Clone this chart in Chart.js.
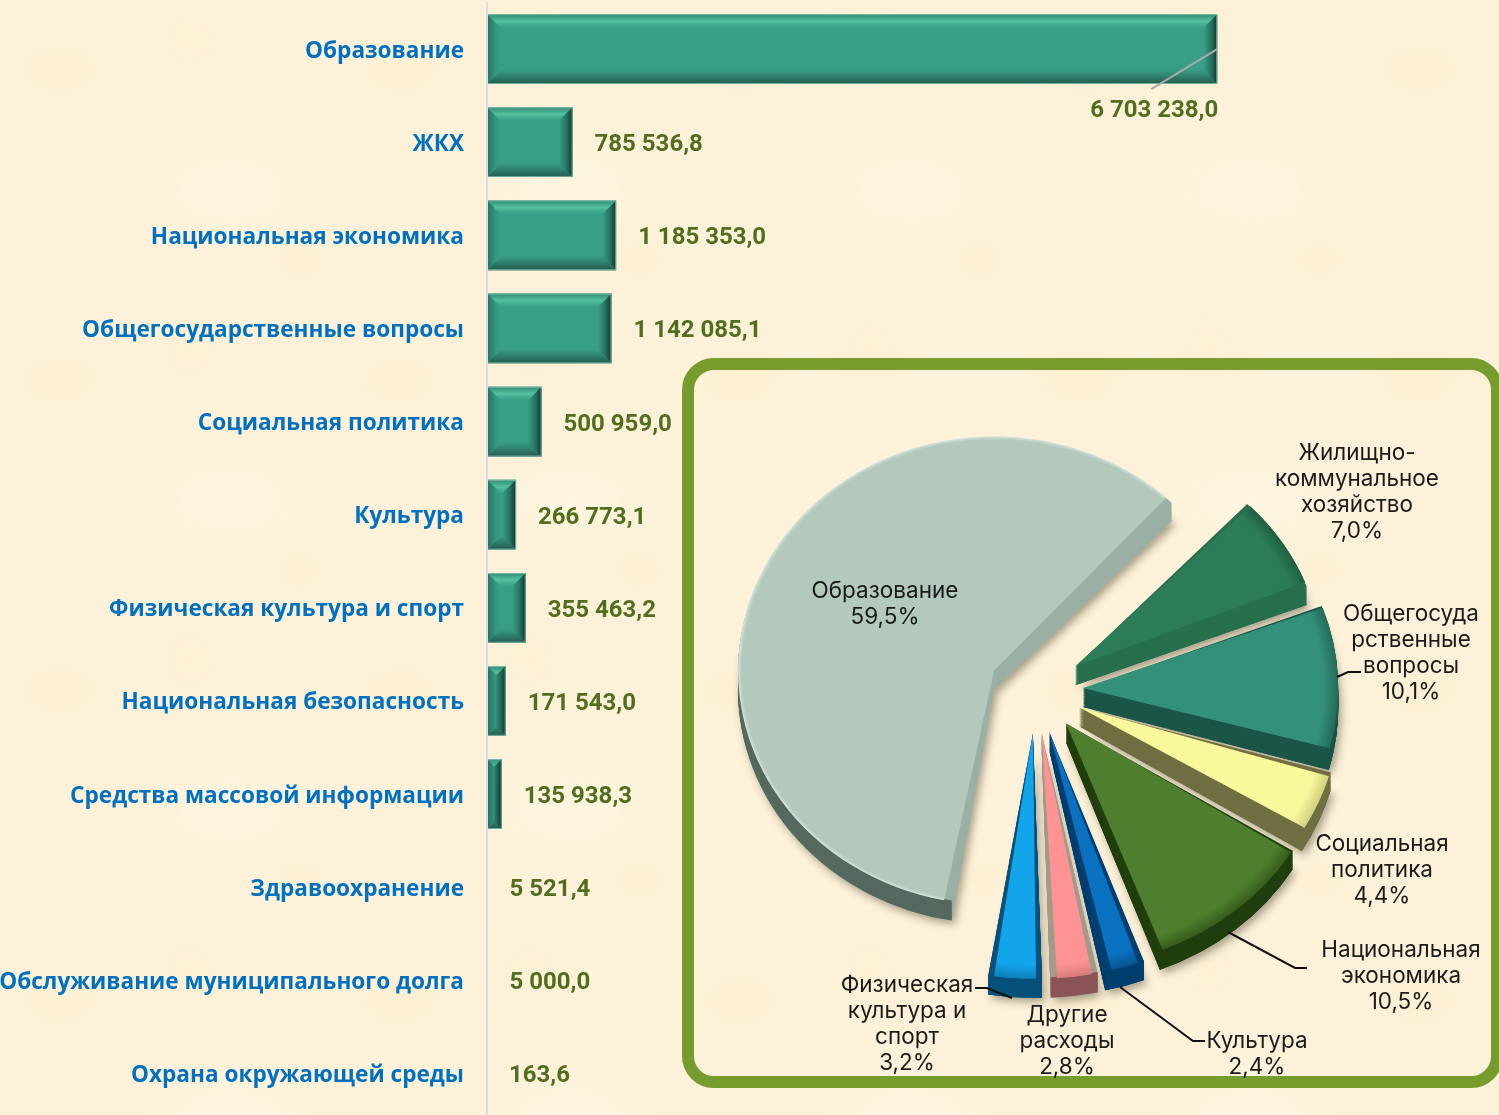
<!DOCTYPE html>
<html lang="ru">
<head>
<meta charset="utf-8">
<title>Расходы</title>
<script src="https://cdn.jsdelivr.net/npm/chart.js@4"></script>
<style>
html, body { margin: 0; padding: 0; width: 1499px; height: 1115px; overflow: hidden; }
body {
    position: relative;
    background-color: #fdf2d9;
    background-image:
        radial-gradient(ellipse 70px 45px at 60px 70px, rgba(250,236,200,.4), transparent),
        radial-gradient(ellipse 90px 50px at 230px 190px, rgba(255,250,235,.45), transparent),
        radial-gradient(ellipse 60px 70px at 190px 40px, rgba(250,237,205,.35), transparent),
        radial-gradient(ellipse 50px 40px at 300px 260px, rgba(250,236,200,.35), transparent);
    background-size: 340px 310px;
}
#frame {
    position: absolute; left: 682px; top: 358px; width: 821px; height: 730px;
    box-sizing: border-box; border: 12px solid #759c2c; border-radius: 32px;
}
canvas { position: absolute; }
#bars { left: 0; top: 0; }
#pie { left: 573px; top: 265px; }
</style>
</head>
<body>
<div id="frame"></div>
<canvas id="bars" width="1499" height="1120"></canvas>
<canvas id="pie" width="926" height="850"></canvas>
<script>
'use strict';

const barCategories = ['Образование', 'ЖКХ', 'Национальная экономика', 'Общегосударственные вопросы',
    'Социальная политика', 'Культура', 'Физическая культура и спорт', 'Национальная безопасность',
    'Средства массовой информации', 'Здравоохранение', 'Обслуживание муниципального долга', 'Охрана окружающей среды'];
const barValues = [6703238.0, 785536.8, 1185353.0, 1142085.1, 500959.0, 266773.1, 355463.2, 171543.0, 135938.3, 5521.4, 5000.0, 163.6];

const pieCategories = [
    ['Жилищно-', 'коммунальное', 'хозяйство'],
    ['Общегосуда', 'рственные', 'вопросы'],
    ['Социальная', 'политика'],
    ['Национальная', 'экономика'],
    ['Культура'],
    ['Другие', 'расходы'],
    ['Физическая', 'культура и', 'спорт'],
    ['Образование']
];
const pieValues = [7.0, 10.1, 4.4, 10.5, 2.4, 2.8, 3.2, 59.5];

const pieFace = ['#2b7c57', '#33917a', '#f9f99b', '#4e7f2e', '#0a70c0', '#ff9393', '#12a5ec', '#b2c9bc'];
const pieEdge = ['#1f5f42', '#236b59', '#cfcf80', '#365d1c', '#075590', '#d97c7c', '#0d82bb', '#d4e4dc'];
const pieSide = ['#27704e', '#1b5648', '#6f6f42', '#213f0e', '#003f70', '#a39a8a', '#07517a', '#9bb0a5'];
const pieRim = ['#27704e', '#1b5648', '#6f6f42', '#213f0e', '#003f70', '#8a5458', '#07517a', '#56695f'];

// label anchors in page pixels: centre x and first line y
const pieLabelPos = [[1357, 453], [1411, 614], [1382, 844], [1401, 950], [1257, 1041], [1067, 1015], [907, 985], [885, 591]];
const pieLeaders = [
    [[1337, 677], [1348, 672], [1361, 672]],
    [[1228, 932], [1295, 968], [1307, 968]],
    [[1120, 987], [1193, 1041], [1205, 1041]],
    [[975, 988], [987, 988], [1012, 998]]
];

const PIE_LEFT = 573, PIE_TOP = 265;
const PIE_R = 256, PIE_OFFSET = 47, PIE_TILT = 0.915, PIE_DEPTH = 19;
const PIE_ROTATION = 44;

function formatValue(v) {
    const parts = v.toFixed(1).split('.');
    return parts[0].replace(/\B(?=(\d{3})+$)/g, ' ') + ',' + parts[1];
}

// slices nearer the viewer come out a bit bigger, the original has perspective
function sliceRadius(i) {
    const total = pieValues.reduce(function (a, b) { return a + b; }, 0);
    if (pieValues[i] > 50) return PIE_R;
    let before = 0;
    for (let k = 0; k < i; k++) before += pieValues[k];
    const mid = (PIE_ROTATION - 90) * Math.PI / 180 + (before + pieValues[i] / 2) / total * Math.PI * 2;
    const s = Math.sin(mid);
    return PIE_R * (1 + (s > 0 ? 0.05 : 0.06) * s);
}

function band(ctx, pts, x0, y0, x1, y1, stops) {
    const g = ctx.createLinearGradient(x0, y0, x1, y1);
    stops.forEach(function (s) { g.addColorStop(s[0], s[1]); });
    ctx.fillStyle = g;
    ctx.beginPath();
    ctx.moveTo(pts[0][0], pts[0][1]);
    for (let i = 1; i < pts.length; i++) ctx.lineTo(pts[i][0], pts[i][1]);
    ctx.closePath();
    ctx.fill();
}

// bevel on the bars + value labels
const barDecor = {
    id: 'barDecor',
    afterDatasetsDraw(chart) {
        const ctx = chart.ctx;
        const bars = chart.getDatasetMeta(0).data;
        bars.forEach(function (bar, i) {
            const l = bar.base, r = bar.x, t = bar.y - bar.height / 2, b = bar.y + bar.height / 2;
            const w = r - l;
            if (w >= 2) {
                const e = Math.min(14, w / 2);
                ctx.save();
                band(ctx, [[l, t], [r, t], [r - e, t + e], [l + e, t + e]], 0, t, 0, t + 14, [
                    [0, '#2f8a74'], [0.5, '#55c09f'], [0.75, '#44ab90'], [1, '#389e85']]);
                band(ctx, [[l, b], [r, b], [r - e, b - e], [l + e, b - e]], 0, b, 0, b - 14, [
                    [0, '#1e5c4e'], [0.35, '#2c7362'], [1, '#389e85']]);
                band(ctx, [[l, t], [l + e, t + e], [l + e, b - e], [l, b]], l, 0, l + 14, 0, [
                    [0, '#256f5e'], [0.6, '#359680'], [1, '#389e85']]);
                band(ctx, [[r, t], [r - e, t + e], [r - e, b - e], [r, b]], r, 0, r - 14, 0, [
                    [0, '#10362e'], [0.4, '#246f5e'], [1, '#3aa188']]);
                ctx.strokeStyle = 'rgba(140,196,176,.8)';
                ctx.lineWidth = 1;
                ctx.strokeRect(l + 0.5, t + 0.5, w - 1, bar.height - 1);
                ctx.restore();
            }
            ctx.save();
            ctx.font = '700 24px Roboto';
            ctx.fillStyle = '#4f6f1e';
            ctx.textBaseline = 'middle';
            if (i === 0) {
                // biggest bar has its label underneath with a leader
                ctx.strokeStyle = '#a9a9a9';
                ctx.lineWidth = 2;
                ctx.beginPath();
                ctx.moveTo(r, bar.y);
                ctx.lineTo(r - 66, bar.y + 40);
                ctx.stroke();
                ctx.textAlign = 'right';
                ctx.fillText(formatValue(barValues[i]), r + 1, bar.y + 62);
            } else {
                ctx.textAlign = 'left';
                ctx.fillText(formatValue(barValues[i]), r + 22, bar.y + 3);
            }
            ctx.restore();
        });
    }
};

function arcPath(ctx, arc, r, dy) {
    const mid = (arc.startAngle + arc.endAngle) / 2;
    const x = arc.x + Math.cos(mid) * PIE_OFFSET;
    const y = arc.y + Math.sin(mid) * PIE_OFFSET + dy;
    ctx.beginPath();
    ctx.moveTo(x, y);
    ctx.arc(x, y, r, arc.startAngle, arc.endAngle);
    ctx.closePath();
}

// the rim only shows where the arc faces down
function rimPath(ctx, arc, r, dy) {
    const mid = (arc.startAngle + arc.endAngle) / 2;
    const x = arc.x + Math.cos(mid) * PIE_OFFSET;
    const y = arc.y + Math.sin(mid) * PIE_OFFSET + dy;
    ctx.beginPath();
    for (let n = -2; n <= 2; n++) {
        const from = Math.max(arc.startAngle, n * 2 * Math.PI);
        const to = Math.min(arc.endAngle, n * 2 * Math.PI + Math.PI);
        if (to > from) {
            ctx.moveTo(x + Math.cos(from) * (r - 1), y + Math.sin(from) * (r - 1));
            ctx.arc(x, y, r - 1, from, to);
        }
    }
}

const pieDepth = {
    id: 'pieDepth',
    afterDatasetsUpdate(chart) {
        // ArcElement grows the radius of an offset slice, take that back out
        chart.getDatasetMeta(0).data.forEach(function (arc, i) {
            const fix = 1 - Math.sin(Math.min(Math.PI, arc.circumference));
            arc.outerRadius = sliceRadius(i) - PIE_OFFSET * fix;
        });
    },
    beforeDatasetsDraw(chart) {
        const ctx = chart.ctx;
        const arcs = chart.getDatasetMeta(0).data;
        const cx = arcs[0].x, cy = arcs[0].y;
        ctx.save();
        ctx.translate(cx, cy);
        ctx.scale(1, PIE_TILT);
        ctx.translate(-cx, -cy);
        const depth = PIE_DEPTH / PIE_TILT;
        arcs.forEach(function (arc, i) {
            ctx.save();
            ctx.shadowColor = 'rgba(60,50,30,.45)';
            ctx.shadowBlur = 9;
            ctx.shadowOffsetX = 3;
            ctx.shadowOffsetY = 4;
            ctx.fillStyle = pieSide[i];
            arcPath(ctx, arc, sliceRadius(i), depth);
            ctx.fill();
            ctx.restore();
        });
        arcs.forEach(function (arc, i) {
            const r = sliceRadius(i);
            ctx.fillStyle = pieSide[i];
            ctx.strokeStyle = pieRim[i];
            ctx.lineWidth = 2;
            for (let k = depth; k >= 0; k -= 1) {
                arcPath(ctx, arc, r, k);
                ctx.fill();
            }
            for (let k = depth; k >= 0; k -= 1) {
                rimPath(ctx, arc, r, k);
                ctx.stroke();
            }
        });
    },
    afterDatasetsDraw(chart) {
        const ctx = chart.ctx;
        ctx.restore();
        ctx.save();
        ctx.strokeStyle = '#111';
        ctx.lineWidth = 2;
        pieLeaders.forEach(function (pts) {
            ctx.beginPath();
            pts.forEach(function (p, j) {
                if (j === 0) ctx.moveTo(p[0] - PIE_LEFT, p[1] - PIE_TOP);
                else ctx.lineTo(p[0] - PIE_LEFT, p[1] - PIE_TOP);
            });
            ctx.stroke();
        });
        ctx.font = '400 22.5px Inter';
        ctx.fillStyle = '#1a1a1a';
        ctx.textAlign = 'center';
        ctx.textBaseline = 'middle';
        pieCategories.forEach(function (lines, i) {
            const pos = pieLabelPos[i];
            const text = lines.concat([pieValues[i].toFixed(1).replace('.', ',') + '%']);
            text.forEach(function (line, j) {
                ctx.fillText(line, pos[0] - PIE_LEFT, pos[1] - PIE_TOP + j * 26);
            });
        });
        ctx.restore();
    }
};

function sliceFill(context) {
    const i = context.dataIndex;
    const area = context.chart.chartArea;
    if (!area) return pieFace[i];
    const cx = (area.left + area.right) / 2, cy = (area.top + area.bottom) / 2;
    const g = context.chart.ctx.createRadialGradient(cx, cy, 0, cx, cy, sliceRadius(i));
    const soft = i === 7 ? 0.985 : 0.94;
    g.addColorStop(0, pieFace[i]);
    g.addColorStop(soft, pieFace[i]);
    g.addColorStop(1, pieEdge[i]);
    return g;
}

window.onload = function () {
    new Chart(document.getElementById('bars'), {
        type: 'bar',
        data: {
            labels: barCategories,
            datasets: [{
                data: barValues,
                backgroundColor: '#389e85',
                borderWidth: 0,
                barPercentage: 0.75,
                categoryPercentage: 1
            }]
        },
        plugins: [barDecor],
        options: {
            indexAxis: 'y',
            responsive: false,
            animation: false,
            events: [],
            layout: { padding: { top: 2.5 } },
            plugins: { legend: { display: false }, tooltip: { enabled: false } },
            scales: {
                x: { display: false, min: 0, max: 9290000 },
                y: {
                    afterFit(scale) { scale.width = 487; scale.paddingTop = 0; scale.paddingBottom = 0; },
                    grid: { display: false, drawTicks: false, tickLength: 0 },
                    border: { display: true, color: '#d9dde0', width: 2, z: 1 },
                    ticks: {
                        autoSkip: false,
                        padding: 23,
                        labelOffset: 2,
                        color: '#0070c0',
                        font: { family: 'Open Sans', size: 22.6, weight: '700' }
                    }
                }
            }
        }
    });

    new Chart(document.getElementById('pie'), {
        type: 'pie',
        data: {
            labels: pieCategories.map(function (l) { return l.join(' '); }),
            datasets: [{
                data: pieValues,
                backgroundColor: sliceFill,
                borderWidth: 0,
                offset: PIE_OFFSET * 4
            }]
        },
        plugins: [pieDepth],
        options: {
            responsive: false,
            animation: false,
            events: [],
            rotation: PIE_ROTATION,
            radius: PIE_R,
            plugins: { legend: { display: false }, tooltip: { enabled: false } }
        }
    });
};
</script>
</body>
</html>
